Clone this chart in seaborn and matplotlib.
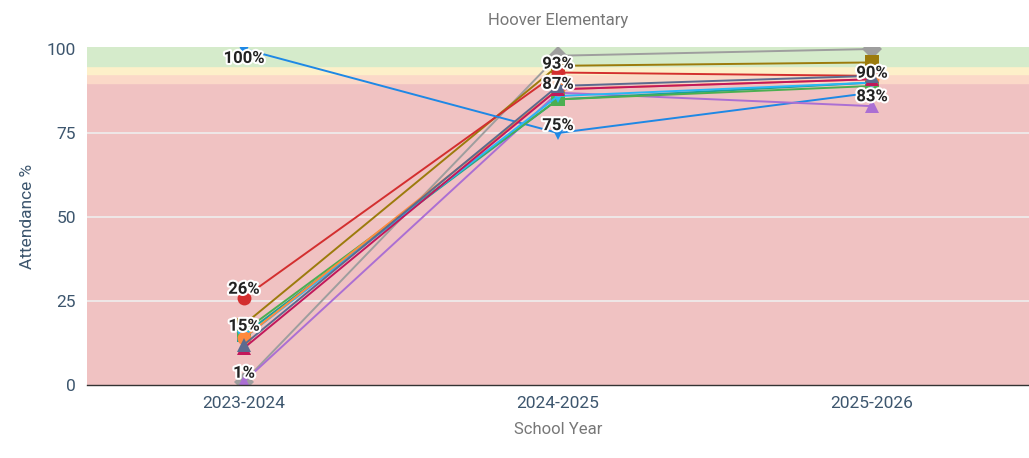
import seaborn as sns
import numpy as np
import pandas as pd
import matplotlib.pyplot as plt
import matplotlib.patheffects as pe

# School years on the x axis
years = ["2023-2024", "2024-2025", "2025-2026"]

# Attendance % per student line
gray_line = [1, 98, 100]
olive_line = [18, 95, 96]
red_line = [26, 93, 92]
blue_line = [100, 75, 87]
purple_line = [1, 87, 83]
teal_line = [15, 85, 90]
green_line = [16, 85, 89]
sky_line = [14, 86, 90]
orange_line = [14, 88, 91]
crimson_line = [11, 88, 91]
slate_line = [12, 89, 92]

series = {
    "gray": gray_line, "olive": olive_line, "red": red_line, "blue": blue_line,
    "purple": purple_line, "teal": teal_line, "green": green_line, "sky": sky_line,
    "orange": orange_line, "crimson": crimson_line, "slate": slate_line,
}
colors = {
    "gray": "#9e9e9e", "olive": "#9c7b0c", "red": "#d32f2f", "blue": "#1e88e5",
    "purple": "#ab6fd3", "teal": "#17a398", "green": "#4caf50", "sky": "#29b6f6",
    "orange": "#ff8a3d", "crimson": "#c2185b", "slate": "#5c6b8f",
}
markers = {
    "gray": "D", "olive": "s", "red": "o", "blue": "v", "purple": "^",
    "teal": "s", "green": "s", "sky": "v", "orange": "o", "crimson": "^", "slate": "^",
}

# Labelled points: (year index, value, offset of the label)
label_points = [(0, 100, -2.8), (0, 26, 2.5), (0, 15, 2.5), (0, 1, 2.5),
                (1, 93, 2.5), (1, 87, 2.5), (1, 75, 2.2),
                (2, 90, 2.8), (2, 83, 2.8)]

rows = []
for name, vals in series.items():
    for yr, v in zip(years, vals):
        rows.append({"year": yr, "value": v, "series": name})
df = pd.DataFrame(rows)

sns.set_style("white")
plt.rcParams['font.family'] = ['Roboto', 'DejaVu Sans']

fig = plt.figure(figsize=(10.29, 4.58), dpi=100)
ax = fig.add_axes([0.0845, 0.1594, 0.9155, 0.738])

# Attendance bands
ax.axhspan(0, 90, color="#f0c2c2", zorder=0)
ax.axhspan(90, 92.5, color="#fbd9c8", zorder=0)
ax.axhspan(92.5, 95, color="#fdf0c9", zorder=0)
ax.axhspan(95, 101, color="#d5ebcb", zorder=0)
for yv in [25, 50, 75]:
    ax.axhline(yv, color="#eeeeee", lw=1.2, zorder=0.5)

sns.lineplot(data=df, x="year", y="value", hue="series", style="series",
             palette=colors, markers=markers, dashes=False, markersize=10,
             markeredgewidth=0, linewidth=1.4, sort=False, legend=False, ax=ax)

for xi, v, off in label_points:
    ax.text(xi, v + off, f"{v}%", ha="center", va="center", fontsize=12,
            fontweight="bold", color="#222222",
            path_effects=[pe.withStroke(linewidth=3, foreground="white")], zorder=5)

ax.set_xlim(-0.5, 2.5)
ax.set_ylim(0, 100.6)
ax.set_yticks([0, 25, 50, 75, 100])
ax.tick_params(colors="#3d566e", labelsize=12.5, length=0, pad=8)
ax.set_xlabel("School Year", color="#777777", fontsize=12, labelpad=8)
ax.set_ylabel("Attendance %", color="#3d566e", fontsize=12.5, labelpad=8)
ax.set_title("Hoover Elementary", color="#777777", fontsize=12, pad=16)

for s in ["top", "right", "left"]:
    ax.spines[s].set_visible(False)
ax.spines["bottom"].set_color("#333333")
ax.spines["bottom"].set_linewidth(1)

fig.savefig("out.png", dpi=100)
